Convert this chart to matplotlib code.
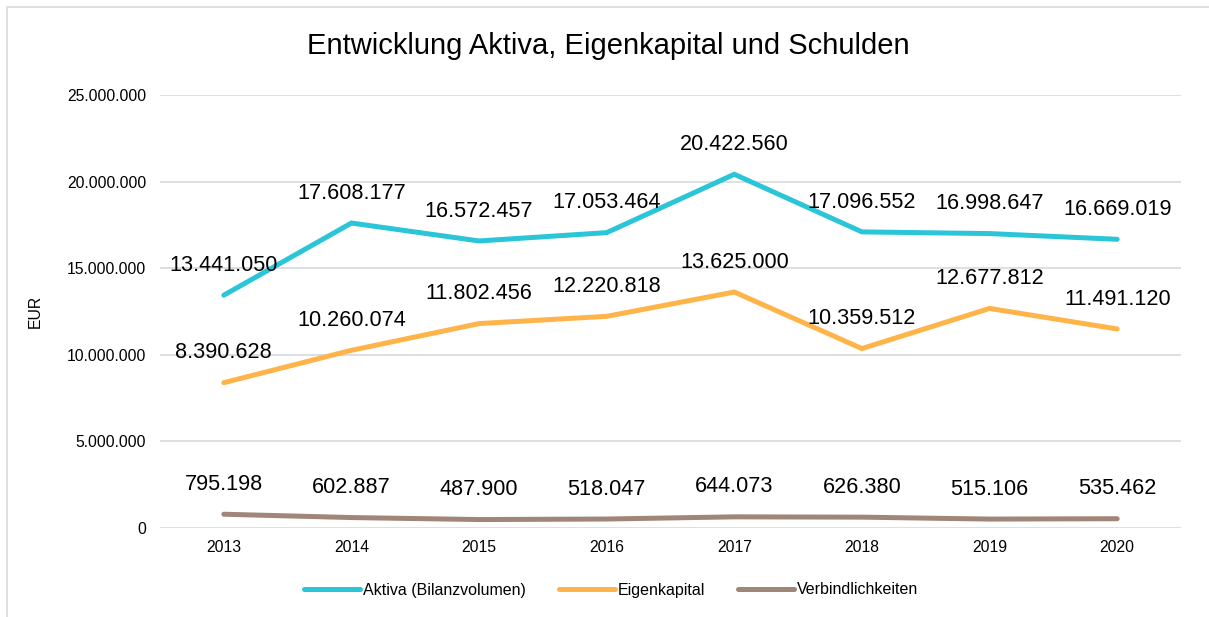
import matplotlib.pyplot as plt
from matplotlib.patches import Rectangle
from matplotlib.ticker import FuncFormatter

plt.rcParams['font.family'] = ['Liberation Sans', 'DejaVu Sans']

years = ["2013", "2014", "2015", "2016", "2017", "2018", "2019", "2020"]
aktiva = [13441050, 17608177, 16572457, 17053464, 20422560, 17096552, 16998647, 16669019]
eigenkapital = [8390628, 10260074, 11802456, 12220818, 13625000, 10359512, 12677812, 11491120]
verbindlichkeiten = [795198, 602887, 487900, 518047, 644073, 626380, 515106, 535462]

series = [
    ("Aktiva (Bilanzvolumen)", aktiva, "#2BC5D8"),
    ("Eigenkapital", eigenkapital, "#FFB449"),
    ("Verbindlichkeiten", verbindlichkeiten, "#A08679"),
]


def de_fmt(v, pos=None):
    return f"{int(round(v)):,}".replace(",", ".")


fig = plt.figure(figsize=(12.09, 6.17), dpi=100)
# outer chart frame (only top/left visible in the reference)
fig.patches.append(Rectangle((7 / 1209, -0.1), 1.2, (617 - 7) / 617 + 0.1,
                             transform=fig.transFigure, fill=False,
                             edgecolor="#D9D9D9", linewidth=1.2))

ax = fig.add_axes([160 / 1209, 1 - 528 / 617, (1181 - 160) / 1209, (528 - 95) / 617])

x = list(range(len(years)))
for name, vals, col in series:
    ax.plot(x, vals, color=col, linewidth=3.6, label=name, solid_capstyle="round",
            solid_joinstyle="miter")
    for xi, v in zip(x, vals):
        ax.annotate(de_fmt(v), (xi, v), xytext=(0, 21.5), textcoords="offset points",
                    ha="center", va="center", fontsize=15.6, color="#000000")

ax.set_xlim(-0.5, len(years) - 0.5)
ax.set_ylim(0, 25000000)
ax.set_yticks([0, 5000000, 10000000, 15000000, 20000000, 25000000])
ax.yaxis.set_major_formatter(FuncFormatter(de_fmt))
ax.set_xticks(x)
ax.set_xticklabels(years)
ax.grid(axis="y", color="#D9D9D9", linewidth=1.2)
ax.set_axisbelow(True)
for s in ax.spines.values():
    s.set_visible(False)
ax.tick_params(axis="both", length=0, labelsize=11.3, colors="#000000")
ax.tick_params(axis="y", pad=10)
ax.tick_params(axis="x", pad=9)
ax.set_ylabel("EUR", fontsize=11.3, labelpad=17)

fig.text(608 / 1209, 1 - 46 / 617, "Entwicklung Aktiva, Eigenkapital und Schulden",
         ha="center", va="center", fontsize=21)

fig.legend(loc="center", bbox_to_anchor=(611 / 1209, 1 - 590 / 617),
           bbox_transform=fig.transFigure, ncol=3,
           frameon=False, fontsize=11.5, handlelength=3.5, handletextpad=0.15,
           columnspacing=2.1)

fig.savefig("out.png", dpi=100)
